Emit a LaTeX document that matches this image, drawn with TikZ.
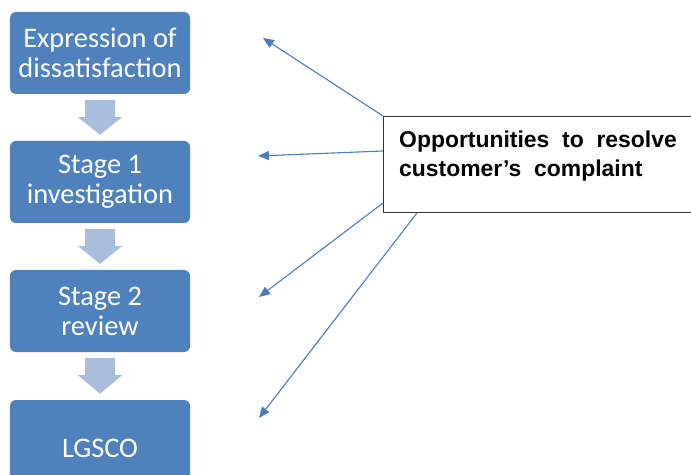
\documentclass[tikz,border=0pt]{standalone}
\usepackage{fontspec}
\setmainfont{Carlito}
\newfontfamily\arialfont{Liberation Sans}
\usetikzlibrary{arrows.meta,calc}
\definecolor{boxblue}{HTML}{4F81BD}
\definecolor{arrblue}{HTML}{A9BEDD}
\definecolor{lineblue}{HTML}{4A7EBB}
\begin{document}
\begin{tikzpicture}[x=1bp,y=-1bp,
  stagebox/.style={fill=boxblue, draw=none, rounded corners=6bp, minimum width=180bp,
    minimum height=82bp, text=white, align=center, inner sep=0pt,
    font=\fontsize{28.5}{30}\selectfont},
  pointer/.style={draw=lineblue, line width=1.1bp, -{Triangle[width=9bp,length=11bp]}},
  blockarrow/.style={fill=arrblue, draw=none}]
\useasboundingbox (0,0) rectangle (691,475);
\clip (0,0) rectangle (691,475);
\node[stagebox] (b1) at (100,53) {Expression of\\dissatisfaction};
\node[stagebox] (b2) at (100,182) {Stage 1\\investigation};
\node[stagebox] (b3) at (100,311) {Stage 2\\review};
\node[stagebox, minimum height=96bp] (b4) at (100,448) {LGSCO};
% block arrows
\foreach \a/\b in {b1/b2,b2/b3,b3/b4}{
  \fill[blockarrow] ($(\a.south)+(-15,6)$) -- ($(\a.south)+(15,6)$) -- ($(\a.south)+(15,23)$)
    -- ($(\a.south)+(22,23)$) -- ($(\b.north)+(0,-6)$) -- ($(\a.south)+(-22,23)$)
    -- ($(\a.south)+(-15,23)$) -- cycle;
}
% text box
\node[draw=black!80, line width=0.9bp, minimum width=330bp, minimum height=96bp,
  anchor=north west, inner sep=0pt] (tb) at (383,116) {};
\node[anchor=base west, align=left, inner sep=0pt,
  font=\arialfont\bfseries\fontsize{23}{30}\selectfont] (tbt) at (399,177)
  {Opportunities\ \ to\ \ resolve\\customer’s\ \ complaint};
% pointer ends
\coordinate (t1) at (263,38);
\coordinate (t2) at (258,156);
\coordinate (t3) at (259,297);
\coordinate (t4) at (259,418);
\draw[pointer] (tb.north west) -- (t1);
\draw[pointer] ($(tb.north west)+(0,35)$) -- (t2);
\draw[pointer] ($(tb.north west)+(0,87)$) -- (t3);
\draw[pointer] ($(tb.south west)+(34,0)$) -- (t4);
\end{tikzpicture}
\end{document}
